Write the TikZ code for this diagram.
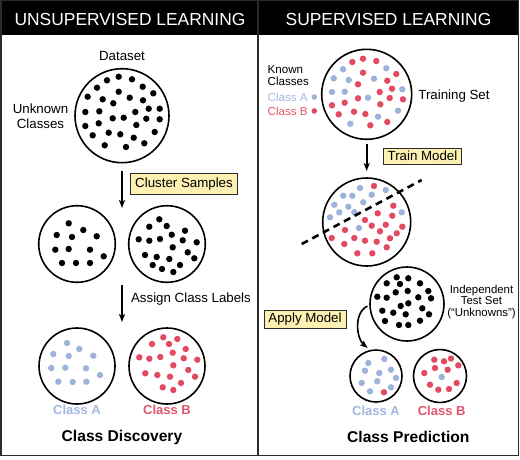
\documentclass[tikz,border=0pt]{standalone}
\usepackage{fontspec}
\setmainfont{Liberation Sans}
\usetikzlibrary{arrows.meta}
\definecolor{ca}{HTML}{9DB3DA}
\definecolor{cb}{HTML}{E24A62}
\definecolor{cat}{HTML}{A3B8DE}
\definecolor{cbt}{HTML}{E2566E}
\definecolor{boxy}{HTML}{FCF1B2}
\definecolor{frm}{HTML}{2A2A2A}
\begin{document}
\begin{tikzpicture}[x=1pt,y=-1pt,
  hdr/.style={font=\fontsize{17.4}{18}\selectfont, text=white, inner sep=0},
  body/.style={font=\fontsize{13.3}{14.5}\selectfont, inner sep=0, align=center},
  smalltxt/.style={font=\fontsize{11.6}{11.2}\selectfont, inner sep=0},
  boldlab/.style={font=\fontsize{13}{14}\selectfont\bfseries, inner sep=0},
  title/.style={font=\fontsize{15.6}{16}\selectfont\bfseries, inner sep=0},
  ring/.style={circle, draw=black, line width=1.6pt, inner sep=0, minimum size=#1},
  tag/.style={draw=frm, line width=0.9pt, fill=boxy, inner sep=0, font=\fontsize{13.3}{14}\selectfont},
  flow/.style={-{Stealth[length=8pt,width=6pt,inset=2pt]}, line width=1.6pt}
]
\useasboundingbox (0,0) rectangle (520,459);
\fill[white] (0,0) rectangle (520,459);
% headers
\fill[black] (1,0) rectangle (258,35);
\fill[black] (258,0) rectangle (519,35);
\node[hdr] (h1) at (130,20) {UNSUPERVISED LEARNING};
\node[hdr] (h2) at (388.5,20) {SUPERVISED LEARNING};
% frame
\draw[line width=1.5pt, frm] (0.75,0) rectangle (518.5,455.5);
\draw[line width=1.5pt, frm] (258,0) -- (258,455.5);

% ===== left panel =====
\node[body] (dset) at (122,56) {Dataset};
\node[ring=94] (ds) at (122,115.7) {};
\node[body] (unk) at (40.5,116) {Unknown\\Classes};
\foreach \x/\y in {118.7/76.7,107/80.3,132/79.3,97/87.7,142.7/86.7,118.7/91.7,153.3/93.3,
  87.7/96.7,102.7/99.3,129.7/97.7,143/100.3,113.3/103.3,148.7/108.7,159.7/108.7,85.3/112,
  99.3/111.3,135.3/112,112.7/118.3,123.7/117.7,146.3/118.7,159.7/119.3,85.3/126,98.7/123.3,
  136.3/125,108.7/132.7,120.3/134.3,154.7/132,92.7/135.3,133.7/137.7,144.3/143.3,104.7/145.3,126/147}
  \fill (\x,\y) circle[radius=3.2];

\coordinate (k1) at (122,208);
\draw[flow, shorten <=7pt] (ds) -- (k1);
\node[tag, minimum width=106.6, minimum height=20.7] (cs) at (184,183.7) {Cluster Samples};

\node[ring=76.6] (c1) at (77,244) {};
\node[ring=76.6] (c2) at (167,244) {};
\foreach \x/\y in {68.7/223.3,83.3/230,56.7/235,72/237,96.7/236.3,55.3/249.7,68.7/249,90/249.7,
  103.7/256.3,62/263,76/263,90/263}
  \fill (\x,\y) circle[radius=3.2];
\foreach \x/\y in {159.3/219.3,149.3/226.7,166.7/226,185/230.7,138.7/239.3,149.3/240.7,160/239,
  171.7/234.7,182.7/240.3,196.7/242.3,172.7/247.3,187.7/252.3,145/255,156.7/257,169.3/259,
  194.3/258.3,152.7/265,162/269,180/265,173.3/272}
  \fill (\x,\y) circle[radius=3.2];

\coordinate (k2s) at (122,285);
\coordinate (k2e) at (122,322);
\draw[flow] (k2s) -- (k2e);
\node[body] (acl) at (191,299) {Assign Class Labels};

\node[ring=76] (a1) at (77,366) {};
\node[ring=76] (b1) at (167,366) {};
\foreach \x/\y in {67/343,79.3/349,53.3/354,68.7/356,93.3/355.7,51.3/368,65.3/367.7,86/368.3,
  100/375,58.3/381.7,72.7/382,86.3/381.7}
  \fill[ca] (\x,\y) circle[radius=3.2];
\foreach \x/\y in {163.3/337.3,177.3/339,152/344,169/344,185.7/349,172.7/352.7,139.3/357.3,
  149.3/358.7,160.3/357,183.7/358.3,197.3/359.7,173.3/365.3,188.3/370,145.3/373.3,157.3/375,
  170/376.7,195/376.7,181/383,162.7/387.3,173.3/390}
  \fill[cb] (\x,\y) circle[radius=3.2];
\node[boldlab, text=cat] (la) at (77,410) {Class A};
\node[boldlab, text=cbt] (lb) at (167,410) {Class B};
\node[title] (cd) at (122,437) {Class Discovery};

% ===== right panel =====
\node[smalltxt, anchor=west, align=left] (kc) at (267.5,75.5) {Known\\Classes};
\node[smalltxt, anchor=west, text=cat] (kca) at (267.5,97.7) {Class A};
\node[smalltxt, anchor=west, text=cbt] (kcb) at (267.5,111) {Class B};
\fill[ca] (314.3,97) circle[radius=2.8];
\fill[cb] (314.3,111) circle[radius=2.8];

\node[ring=90] (tr) at (366.7,94.3) {};
\node[body] (tset) at (454,96) {Training Set};
\foreach \x/\y/\c in {352.3/62/cb,363/58.7/cb,376.3/61/cb,343/69.3/ca,386.3/68.3/ca,363/72.7/cb,
  396.3/74/cb,333.7/78.3/ca,348.7/80/ca,374/78.7/ca,387.3/80.7/cb,358/84.3/cb,392/88.7/cb,
  402.3/89.3/ca,332/92/ca,344.7/91.7/ca,379.7/92/cb,358/98.3/cb,368/97.7/ca,389.7/98/cb,
  403/99.3/cb,332/105.3/cb,344.7/102.7/cb,380.3/104.3/cb,354/111.7/cb,365.3/114/cb,
  338.7/114.3/cb,378/116.7/ca,398/110.7/ca,387.3/122/cb,350.3/123.7/ca,370.3/125.3/cb}
  \fill[\c] (\x,\y) circle[radius=3.2];

\coordinate (k3) at (366.7,171);
\draw[flow, shorten <=4pt] (tr) -- (k3);
\node[tag, minimum width=78.4, minimum height=15.7] (tm) at (422.5,156.2) {Train Model};

\node[ring=88] (md) at (366.7,222) {};
\foreach \x/\y/\c in {374/186/cb,360/188/ca,385.7/190/ca,343.3/195.7/ca,352.3/195.7/ca,
  371.7/194.7/ca,334.3/204.7/ca,348.3/206.7/ca,363.3/202.3/ca,393.3/205.7/cb,339.3/212.3/ca,
  330/217.3/ca,354.3/212.3/ca,377.7/213.3/cb,392.3/215.7/cb,401.7/212.3/ca,365/220/cb,
  345/230/cb,359/228/ca,371.7/225.7/cb,385.7/224.7/cb,402.3/226.7/cb,380/231.3/cb,
  396.7/233.3/cb,331.7/238/cb,354.3/238/cb,365/240.7/cb,376.7/241.7/cb,390/238.3/cb,
  344.3/244/cb,386.7/247.3/cb,357.3/253.3/cb,372.3/253.3/cb}
  \fill[\c] (\x,\y) circle[radius=3.2];
\coordinate (dl1) at (301.7,244);
\coordinate (dl2) at (421.7,180);
\draw[line width=2.6pt, dash pattern=on 7pt off 5pt] (dl1) -- (dl2);

\node[ring=74] (ts) at (407,304) {};
\foreach \x/\y in {396.7/277.3,408.3/278.3,386.7/283.3,400/284,420/283.3,395.7/292.3,407.7/291,
  428.3/291,377.3/296.7,386.7/297.7,418.3/297.3,431/298.3,408.3/303.3,400.7/306,422.3/308.3,
  382.3/310.7,393.3/312.7,405.7/314.3,429/314.3,385/321,420/320.7,399/325,408.3/325}
  \fill (\x,\y) circle[radius=3.2];
\node[font=\fontsize{11.4}{11.8}\selectfont, inner sep=0, align=center] (its) at (481.5,302)
  {Independent\\Test Set\\(“Unknowns”)};

\node[tag, minimum width=82, minimum height=18.7] (am) at (305,319.3) {Apply Model};

\node[ring=52] (pa) at (376,376) {};
\node[ring=53] (pb) at (440,376) {};
\draw[flow, shorten <=2pt, shorten >=3pt] (ts.182) to[out=205, in=140] (pa.103);
\foreach \x/\y/\c in {368.3/363/ca,384.3/359/ca,365/370.7/ca,379.3/373/ca,391/369.7/ca,
  361.7/383/ca,377.3/381.3/ca,396/378/ca,391/387.3/ca,370/391.3/ca,384/392.3/cb,
  434.3/359.7/cb,444/361.3/cb,451/358.5/cb,458.3/365.3/cb,435/368/cb,447.7/369.7/cb,
  424.3/373/cb,441.7/377/ca,456.7/383/cb,430/384.7/cb,438.3/389.7/cb,449/389/cb}
  \fill[\c] (\x,\y) circle[radius=3.2];
\node[boldlab, text=cat] (pla) at (376,411.3) {Class A};
\node[boldlab, text=cbt] (plb) at (441.7,411.3) {Class B};
\node[title] (cp) at (408.3,436.5) {Class Prediction};
\end{tikzpicture}
\end{document}
